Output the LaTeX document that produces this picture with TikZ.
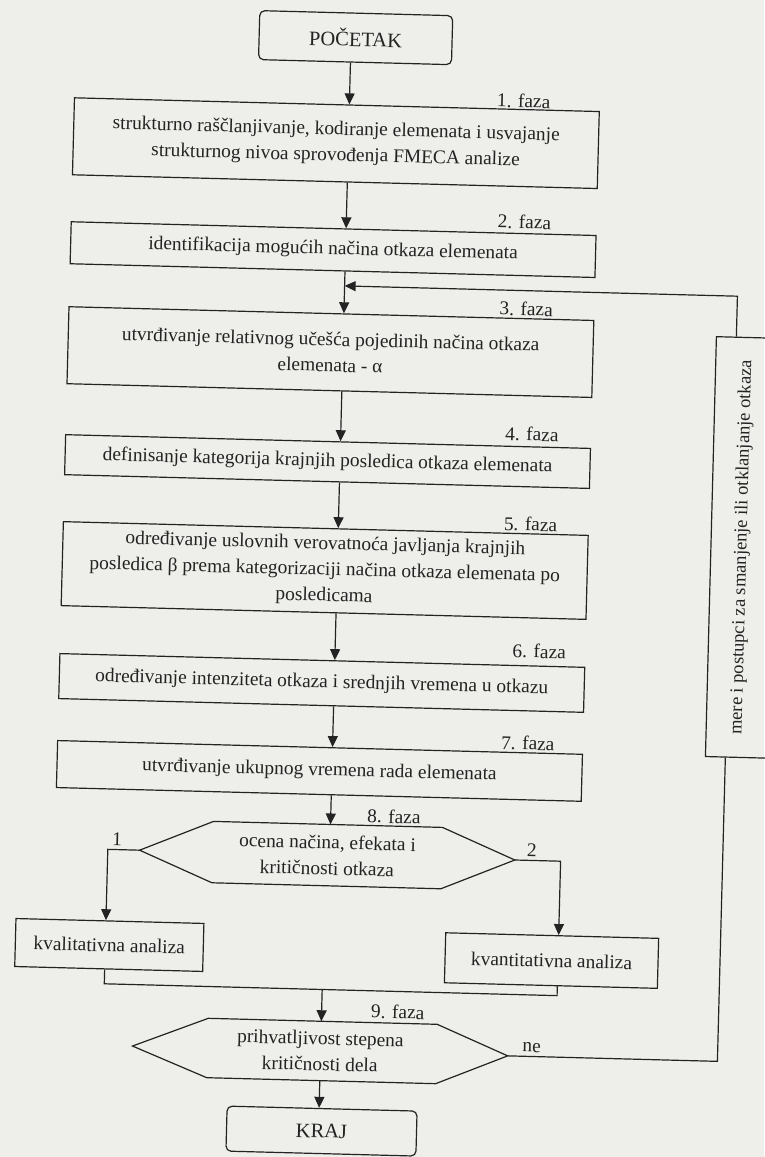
\documentclass[tikz,border=0pt]{standalone}
\usepackage{fontspec}
\setmainfont{Liberation Serif}
\usetikzlibrary{arrows.meta,calc}
\definecolor{bg}{RGB}{238,238,234}
\definecolor{ink}{RGB}{35,35,35}
\tikzset{
  ln/.style={line width=1.2pt,draw=ink},
  arr/.style={ln,-{Triangle[length=11pt,width=10pt]}},
  txt/.style={font=\fontsize{19.4pt}{26pt}\selectfont,text=ink},
  stepbox/.style={draw,ln,txt,align=center,inner sep=0pt,minimum width=525pt},
  term/.style={draw,ln,rounded corners=5pt,inner sep=0pt,text=ink,font=\fontsize{20.5pt}{24pt}\selectfont},
  hexnode/.style={txt,align=center,inner sep=0pt,minimum width=375pt},
  plainbox/.style={draw,ln,txt,inner sep=0pt},
  faza/.style={txt,anchor=base east,inner sep=0pt},
  lbl/.style={txt,anchor=base,inner sep=0pt},
}
\begin{document}
\begin{tikzpicture}[x=1pt,y=-1pt]
\useasboundingbox (0,0) rectangle (764,1157);
\fill[bg] (0,0) rectangle (764,1157);
\begin{scope}[rotate around={-1.5:(382,578)}, transform shape]
\coordinate (ax) at (337,0);
\coordinate (lx) at (115,0);
\coordinate (rx) at (568,0);
\coordinate (fb) at (730,0);
\coordinate (fbtop) at (730,287);
\coordinate (join) at (333,991);

\node[term, minimum width=193pt, minimum height=49pt] (start) at (341.5,38.5) {POČETAK};
\node[stepbox, minimum height=77pt] (b1) at (324.5,144.5) {strukturno raščlanjivanje, kodiranje elemenata i usvajanje\\strukturnog nivoa sprovođenja FMECA analize};
\node[stepbox, minimum height=42pt] (b2) at (324.5,251) {identifikacija mogućih načina otkaza elemenata};
\node[stepbox, minimum height=77pt] (b3) at (324.5,353.5) {utvrđivanje relativnog učešća pojedinih načina otkaza\\elemenata - α};
\node[stepbox, minimum height=40pt] (b4) at (324.5,463) {definisanje kategorija krajnjih posledica otkaza elemenata};
\node[stepbox, minimum height=84pt] (b5) at (324.5,572) {određivanje uslovnih verovatnoća javljanja krajnjih\\posledica β prema kategorizaciji načina otkaza elemenata po\\posledicama};
\node[stepbox, minimum height=45pt] (b6) at (324.5,684.5) {određivanje intenziteta otkaza i srednjih vremena u otkazu};
\node[stepbox, minimum height=47pt] (b7) at (324.5,772.5) {utvrđivanje ukupnog vremena rada elemenata};
\node[hexnode, minimum height=61pt] (h8) at (334.5,856.5) {ocena načina, efekata i\\kritičnosti otkaza};
\draw[ln] (h8.west) -- ($(h8.north west)!0.195!(h8.north east)$) -- ($(h8.north east)!0.195!(h8.north west)$) -- (h8.east) -- ($(h8.south east)!0.195!(h8.south west)$) -- ($(h8.south west)!0.195!(h8.south east)$) -- cycle;
\node[plainbox, minimum width=188pt, minimum height=48pt] (kval) at (119,952) {kvalitativna analiza};
\node[plainbox, minimum width=213pt, minimum height=50pt] (kvan) at (561.5,956) {kvantitativna analiza};
\node[hexnode, minimum height=59pt] (h9) at (332.5,1052.5) {prihvatljivost stepena\\kritičnosti dela};
\draw[ln] (h9.west) -- ($(h9.north west)!0.2!(h9.north east)$) -- ($(h9.north east)!0.19!(h9.north west)$) -- (h9.east) -- ($(h9.south east)!0.19!(h9.south west)$) -- ($(h9.south west)!0.2!(h9.south east)$) -- cycle;
\node[term, minimum width=190pt, minimum height=45pt] (kraj) at (336,1132.5) {KRAJ};
\node[draw, ln, inner sep=0pt, rotate=90, minimum width=420pt, minimum height=62pt, text=ink, font=\fontsize{18.5pt}{22pt}\selectfont] (rbox) at (741,538) {mere i postupci za smanjenje ili otklanjanje otkaza};

\node[faza] (f1) at (538,104) {1. faza};
\node[faza] (f2) at (542,225) {2. faza};
\node[faza] (f3) at (546,312) {3. faza};
\node[faza] (f4) at (555,437) {4. faza};
\node[faza] (f5) at (556,527) {5. faza};
\node[faza] (f6) at (568,654) {6. faza};
\node[faza] (f7) at (559,746) {7. faza};
\node[faza] (f8) at (427,823) {8. faza};
\node[faza] (f9) at (436,1018) {9. faza};
\node[lbl] (l1) at (124,852) {1};
\node[lbl] (l2) at (539,853) {2};
\node[lbl] (lne) at (544,1048) {ne};

\draw[arr] (start.south -| ax) -- (b1.north -| ax);
\draw[arr] (b1.south -| ax) -- (b2.north -| ax);
\draw[arr] (b2.south -| ax) -- (b3.north -| ax);
\draw[arr] (b3.south -| ax) -- (b4.north -| ax);
\draw[arr] (b4.south -| ax) -- (b5.north -| ax);
\draw[arr] (b5.south -| ax) -- (b6.north -| ax);
\draw[arr] (b6.south -| ax) -- (b7.north -| ax);
\draw[arr] (b7.south -| ax) -- (h8.north -| ax);
\draw[arr] (h8.west) -- (h8.west -| lx) -- (kval.north -| lx);
\draw[arr] (h8.east) -- (h8.east -| rx) -- (kvan.north -| rx);
\draw[ln] (kval.south -| lx) |- (join) -| (kvan.south -| rx);
\draw[arr] (join) -- (h9.north -| join);
\draw[arr] (h9.south -| join) -- (kraj.north -| join);
\draw[ln] (h9.east) -- (h9.east -| fb) -- (rbox.west -| fb);
\draw[arr] (rbox.east -| fb) -- (fbtop) -- (fbtop -| ax);
\end{scope}
\end{tikzpicture}
\end{document}
